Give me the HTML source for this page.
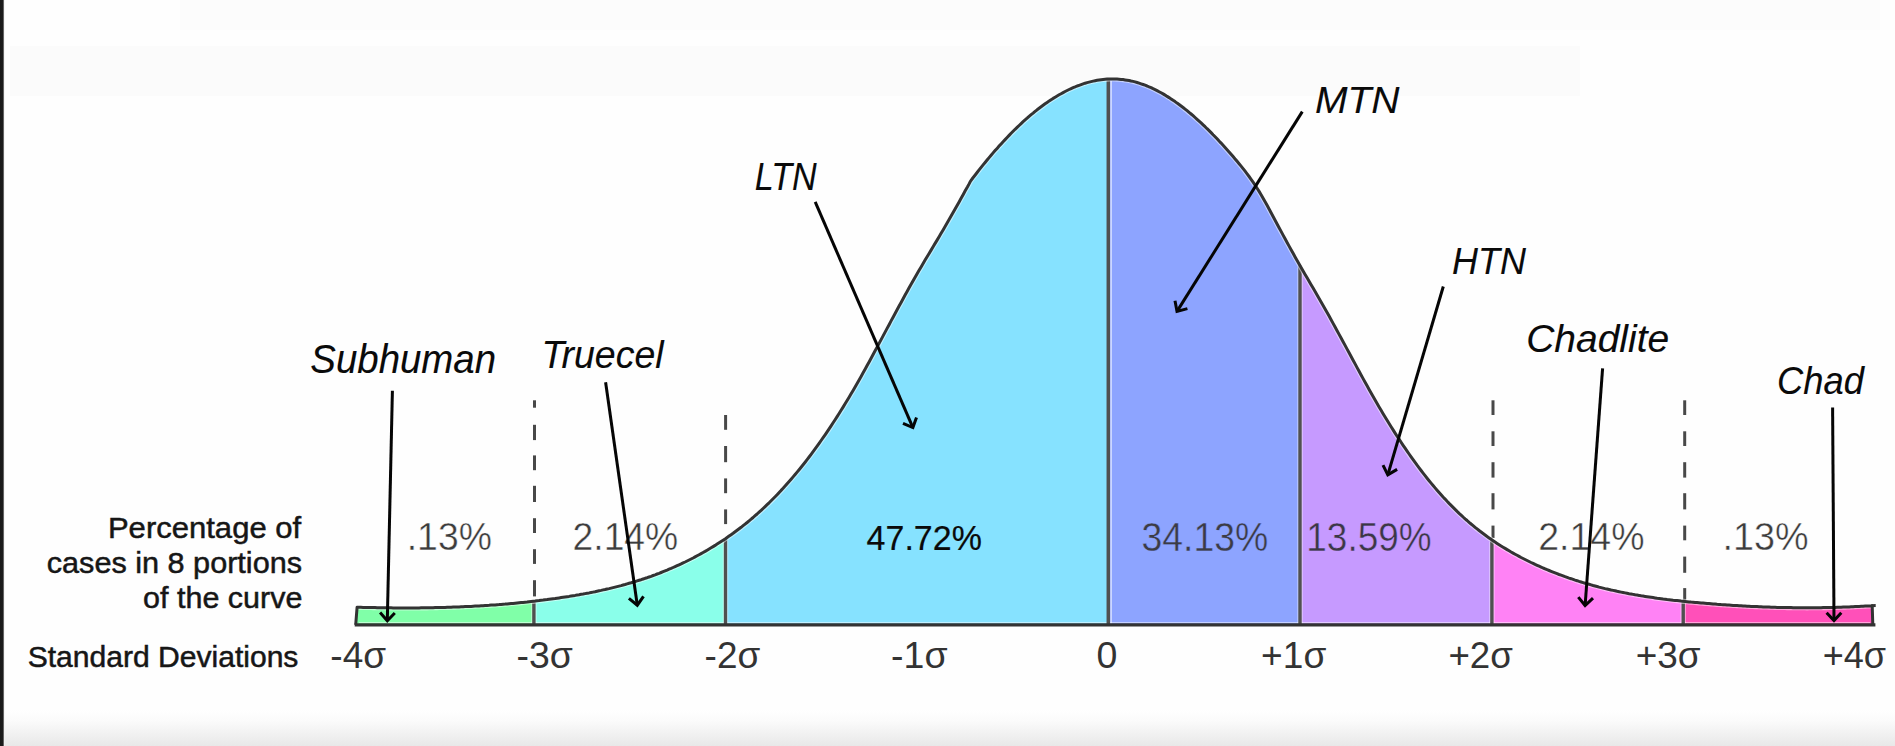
<!DOCTYPE html><html><head><meta charset="utf-8"><title>Bell curve</title><style>
html,body{margin:0;padding:0;background:#fff;}body{width:1895px;height:746px;overflow:hidden;position:relative;font-family:"Liberation Sans",sans-serif;}
svg{position:absolute;left:0;top:0;display:block}text{font-family:"Liberation Sans",sans-serif;}
</style></head><body>
<svg width="1895" height="746" viewBox="0 0 1895 746">
<defs><linearGradient id="bg" x1="0" y1="0" x2="0" y2="1"><stop offset="0" stop-color="#ffffff"/><stop offset="0.3" stop-color="#fbfbfb"/><stop offset="1" stop-color="#e8e8e8"/></linearGradient>
<linearGradient id="lb" x1="0" y1="0" x2="1" y2="0"><stop offset="0" stop-color="#191919"/><stop offset="0.62" stop-color="#1c1c1c"/><stop offset="0.8" stop-color="#777"/><stop offset="1" stop-color="#fff"/></linearGradient></defs>
<g>
<rect x="0" y="0" width="1895" height="746" fill="#fefefe"/>
<rect x="0" y="710" width="1895" height="36" fill="url(#bg)"/>
<rect x="10" y="46" width="1570" height="50" fill="#000" fill-opacity="0.013"/>
<rect x="180" y="0" width="1700" height="30" fill="#000" fill-opacity="0.008"/>
<rect x="0" y="0" width="4.6" height="746" fill="url(#lb)"/>
<polygon points="357.0,624.8 357.0,607.2 357.1,607.2 358.7,607.2 360.9,607.3 363.1,607.4 365.1,607.4 367.1,607.5 369.1,607.5 371.1,607.5 373.1,607.6 375.1,607.6 377.1,607.7 379.1,607.7 381.1,607.7 383.1,607.7 385.1,607.8 387.1,607.8 389.1,607.8 391.1,607.8 393.1,607.9 395.1,607.9 397.1,607.9 399.1,607.9 401.1,607.9 403.1,607.9 405.1,607.9 407.1,607.9 409.1,607.9 411.1,607.9 413.1,607.9 415.1,607.9 417.1,607.9 419.1,607.9 421.1,607.8 423.1,607.8 425.1,607.8 427.1,607.8 429.1,607.7 431.1,607.7 433.1,607.7 435.1,607.6 437.1,607.6 439.1,607.5 441.1,607.5 443.1,607.4 445.1,607.4 447.1,607.3 449.1,607.3 451.1,607.2 453.1,607.1 455.1,607.1 457.1,607.0 459.1,606.9 461.1,606.8 463.1,606.7 465.1,606.6 467.1,606.5 469.1,606.5 471.1,606.4 473.1,606.2 475.1,606.1 477.1,606.0 479.1,605.9 481.1,605.8 483.1,605.7 485.1,605.5 487.1,605.4 489.1,605.3 491.1,605.1 493.1,605.0 495.1,604.9 497.1,604.7 499.1,604.6 501.1,604.4 503.1,604.2 505.1,604.1 507.1,603.9 509.1,603.7 511.1,603.5 513.1,603.4 515.1,603.2 517.1,603.0 519.1,602.8 521.1,602.6 523.1,602.4 525.1,602.2 527.1,602.0 529.1,601.7 531.1,601.5 533.1,601.3 533.9,601.2 533.9,624.8" fill="#80ffa8"/>
<polygon points="533.9,624.8 533.9,601.2 535.1,601.1 537.1,600.8 539.1,600.6 541.1,600.3 543.1,600.1 545.1,599.8 547.1,599.6 549.1,599.3 551.1,599.0 553.1,598.7 555.1,598.5 557.1,598.2 559.1,597.9 561.1,597.6 563.1,597.3 565.1,597.0 567.1,596.7 569.1,596.4 571.1,596.0 573.1,595.7 575.1,595.4 577.1,595.0 579.1,594.7 581.1,594.3 583.1,594.0 585.1,593.6 587.1,593.2 589.1,592.9 591.1,592.5 593.1,592.1 595.1,591.7 597.1,591.2 599.1,590.8 601.1,590.4 603.1,589.9 605.1,589.5 607.1,589.0 609.1,588.6 611.1,588.1 613.1,587.6 615.1,587.1 617.1,586.6 619.1,586.1 621.1,585.6 623.1,585.0 625.1,584.5 627.1,583.9 629.1,583.3 631.1,582.8 633.1,582.2 635.1,581.6 637.1,580.9 639.1,580.3 641.1,579.7 643.1,579.0 645.1,578.3 647.1,577.7 649.1,577.0 651.1,576.3 653.1,575.5 655.1,574.8 657.1,574.0 659.1,573.3 661.1,572.5 663.1,571.7 665.1,570.9 667.1,570.1 669.1,569.2 671.1,568.4 673.1,567.5 675.1,566.6 677.1,565.7 679.1,564.8 681.1,563.9 683.1,562.9 685.1,562.0 687.1,561.0 689.1,560.0 691.1,559.0 693.1,558.0 695.1,556.9 697.1,555.8 699.1,554.7 701.1,553.6 703.1,552.5 705.1,551.4 707.1,550.2 709.1,549.0 711.1,547.8 713.1,546.6 715.1,545.4 717.1,544.1 719.1,542.8 721.1,541.5 723.1,540.2 725.1,538.9 725.5,538.6 725.5,624.8" fill="#8affea"/>
<polygon points="725.5,624.8 725.5,538.6 727.1,537.5 729.1,536.1 731.1,534.7 733.1,533.3 735.1,531.8 737.1,530.3 739.1,528.8 741.1,527.3 743.1,525.7 745.1,524.1 747.1,522.5 749.1,520.8 751.1,519.2 753.1,517.5 755.1,515.7 757.1,514.0 759.1,512.2 761.1,510.4 763.1,508.5 765.1,506.6 767.1,504.7 769.1,502.8 771.1,500.8 773.1,498.8 775.1,496.8 777.1,494.7 779.1,492.6 781.1,490.4 783.1,488.3 785.1,486.1 787.1,483.8 789.1,481.6 791.1,479.3 793.1,476.9 795.1,474.5 797.1,472.1 799.1,469.7 801.1,467.2 803.1,464.7 805.1,462.2 807.1,459.6 809.1,457.0 811.1,454.3 813.1,451.6 815.1,448.9 817.1,446.2 819.1,443.4 821.1,440.5 823.1,437.7 825.1,434.8 827.1,431.8 829.1,428.9 831.1,425.9 833.1,422.8 835.1,419.7 837.1,416.6 839.1,413.5 841.1,410.3 843.1,407.1 845.1,403.8 847.1,400.5 849.1,397.2 851.1,393.8 853.1,390.4 855.1,386.9 857.1,383.4 859.1,379.9 861.1,376.4 863.1,372.8 865.1,369.2 867.1,365.5 869.1,361.9 871.1,358.2 873.1,354.5 875.1,350.8 877.1,347.1 879.1,343.4 881.1,339.6 883.1,335.9 885.1,332.1 887.1,328.4 889.1,324.7 891.1,320.9 893.1,317.2 895.1,313.5 897.1,309.7 899.1,306.0 901.1,302.4 903.1,298.7 905.1,295.0 907.1,291.4 909.1,287.8 911.1,284.3 913.1,280.7 915.1,277.2 917.1,273.7 919.1,270.3 921.1,266.9 923.1,263.5 925.1,260.1 927.1,256.8 929.1,253.4 931.1,250.1 933.1,246.7 935.1,243.4 937.1,240.1 939.1,236.7 941.1,233.3 943.1,229.9 945.1,226.5 947.1,223.0 949.1,219.6 951.1,216.1 953.1,212.5 955.1,209.0 957.1,205.4 959.1,201.9 961.1,198.3 963.1,194.7 965.2,190.8 967.4,187.0 969.1,183.9 969.9,182.3 970.3,181.5 971.1,180.3 972.8,178.0 975.0,175.2 977.1,172.5 979.1,169.9 981.1,167.4 983.1,164.9 985.1,162.5 987.1,160.0 989.1,157.6 991.1,155.3 993.1,152.9 995.1,150.6 997.1,148.4 999.1,146.1 1001.1,143.9 1003.1,141.7 1005.1,139.6 1007.1,137.5 1009.1,135.4 1011.1,133.3 1013.1,131.3 1015.1,129.3 1017.1,127.4 1019.1,125.5 1021.1,123.6 1023.1,121.7 1025.1,119.9 1027.1,118.2 1029.1,116.4 1031.1,114.7 1033.1,113.1 1035.1,111.4 1037.1,109.8 1039.1,108.3 1041.1,106.8 1043.1,105.3 1045.1,103.8 1047.1,102.4 1049.1,101.1 1051.1,99.7 1053.1,98.4 1055.1,97.2 1057.1,96.0 1059.1,94.8 1061.1,93.7 1063.1,92.6 1065.1,91.5 1067.1,90.5 1069.1,89.5 1071.1,88.6 1073.1,87.7 1075.1,86.9 1077.1,86.0 1079.1,85.3 1081.1,84.6 1083.1,83.9 1085.1,83.2 1087.1,82.6 1089.1,82.1 1091.1,81.6 1093.1,81.1 1095.1,80.7 1097.1,80.3 1099.1,80.0 1101.1,79.7 1103.1,79.5 1105.1,79.3 1107.1,79.1 1108.6,79.0 1108.6,624.8" fill="#86e2ff"/>
<polygon points="1108.6,624.8 1108.6,79.0 1109.1,79.0 1111.1,78.9 1113.1,78.9 1115.1,79.0 1117.1,79.1 1119.1,79.2 1121.1,79.4 1123.1,79.6 1125.1,79.9 1127.1,80.2 1129.1,80.5 1131.1,81.0 1133.1,81.4 1135.1,81.9 1137.1,82.5 1139.1,83.1 1141.1,83.8 1143.1,84.5 1145.1,85.2 1147.1,86.0 1149.1,86.9 1151.1,87.7 1153.1,88.7 1155.1,89.6 1157.1,90.6 1159.1,91.7 1161.1,92.8 1163.1,93.9 1165.1,95.1 1167.1,96.4 1169.1,97.6 1171.1,98.9 1173.1,100.3 1175.1,101.6 1177.1,103.1 1179.1,104.5 1181.1,106.0 1183.1,107.5 1185.1,109.1 1187.1,110.7 1189.1,112.4 1191.1,114.0 1193.1,115.7 1195.1,117.5 1197.1,119.3 1199.1,121.1 1201.1,122.9 1203.1,124.8 1205.1,126.7 1207.1,128.7 1209.1,130.6 1211.1,132.6 1213.1,134.7 1215.1,136.7 1217.1,138.8 1219.1,141.0 1221.1,143.1 1223.1,145.3 1225.1,147.5 1227.1,149.7 1229.1,152.0 1231.1,154.3 1233.1,156.6 1235.1,158.9 1237.1,161.3 1239.1,163.7 1241.1,166.1 1243.1,168.6 1245.1,171.2 1247.1,173.8 1249.1,176.5 1251.1,179.3 1253.1,182.2 1255.1,185.1 1257.1,188.2 1259.1,191.4 1261.1,194.7 1263.1,198.2 1265.1,201.7 1267.1,205.3 1269.1,209.0 1271.1,212.8 1273.1,216.5 1275.1,220.2 1277.1,224.0 1279.1,227.7 1281.1,231.4 1283.1,235.1 1285.1,238.8 1287.1,242.4 1289.1,246.1 1291.1,249.7 1293.1,253.3 1295.1,256.9 1297.1,260.4 1299.1,264.0 1300.0,265.5 1300.0,624.8" fill="#8da4ff"/>
<polygon points="1300.0,624.8 1300.0,265.5 1301.1,267.5 1303.1,271.0 1305.1,274.4 1307.1,277.8 1309.1,281.3 1311.1,284.7 1313.1,288.1 1315.1,291.5 1317.1,295.0 1319.1,298.4 1321.1,301.9 1323.1,305.4 1325.1,309.0 1327.1,312.5 1329.1,316.1 1331.1,319.7 1333.1,323.4 1335.1,327.0 1337.1,330.7 1339.1,334.4 1341.1,338.0 1343.1,341.7 1345.1,345.4 1347.1,349.1 1349.1,352.8 1351.1,356.5 1353.1,360.2 1355.1,363.9 1357.1,367.6 1359.1,371.3 1361.1,374.9 1363.1,378.6 1365.1,382.2 1367.1,385.8 1369.1,389.4 1371.1,393.0 1373.1,396.5 1375.1,400.0 1377.1,403.5 1379.1,406.9 1381.1,410.3 1383.1,413.7 1385.1,417.0 1387.1,420.3 1389.1,423.5 1391.1,426.7 1393.1,429.9 1395.1,433.1 1397.1,436.2 1399.1,439.2 1401.1,442.3 1403.1,445.3 1405.1,448.2 1407.1,451.1 1409.1,454.0 1411.1,456.9 1413.1,459.7 1415.1,462.4 1417.1,465.2 1419.1,467.8 1421.1,470.5 1423.1,473.1 1425.1,475.7 1427.1,478.2 1429.1,480.7 1431.1,483.1 1433.1,485.5 1435.1,487.9 1437.1,490.2 1439.1,492.5 1441.1,494.8 1443.1,497.0 1445.1,499.1 1447.1,501.3 1449.1,503.4 1451.1,505.4 1453.1,507.4 1455.1,509.4 1457.1,511.4 1459.1,513.3 1461.1,515.1 1463.1,517.0 1465.1,518.8 1467.1,520.5 1469.1,522.3 1471.1,524.0 1473.1,525.6 1475.1,527.3 1477.1,528.9 1479.1,530.5 1481.1,532.0 1483.1,533.5 1485.1,535.0 1487.1,536.5 1489.1,537.9 1491.1,539.3 1491.9,539.9 1491.9,624.8" fill="#c69aff"/>
<polygon points="1491.9,624.8 1491.9,539.9 1493.1,540.7 1495.1,542.1 1497.1,543.4 1499.1,544.7 1501.1,546.0 1503.1,547.2 1505.1,548.4 1507.1,549.6 1509.1,550.8 1511.1,552.0 1513.1,553.1 1515.1,554.2 1517.1,555.3 1519.1,556.4 1521.1,557.5 1523.1,558.5 1525.1,559.5 1527.1,560.5 1529.1,561.5 1531.1,562.5 1533.1,563.4 1535.1,564.4 1537.1,565.3 1539.1,566.2 1541.1,567.1 1543.1,568.0 1545.1,568.8 1547.1,569.7 1549.1,570.5 1551.1,571.3 1553.1,572.1 1555.1,572.9 1557.1,573.7 1559.1,574.5 1561.1,575.2 1563.1,575.9 1565.1,576.7 1567.1,577.4 1569.1,578.1 1571.1,578.7 1573.1,579.4 1575.1,580.1 1577.1,580.7 1579.1,581.4 1581.1,582.0 1583.1,582.6 1585.1,583.2 1587.1,583.8 1589.1,584.3 1591.1,584.9 1593.1,585.5 1595.1,586.0 1597.1,586.5 1599.1,587.1 1601.1,587.6 1603.1,588.1 1605.1,588.6 1607.1,589.0 1609.1,589.5 1611.1,590.0 1613.1,590.4 1615.1,590.8 1617.1,591.3 1619.1,591.7 1621.1,592.1 1623.1,592.5 1625.1,592.9 1627.1,593.3 1629.1,593.7 1631.1,594.0 1633.1,594.4 1635.1,594.8 1637.1,595.1 1639.1,595.4 1641.1,595.8 1643.1,596.1 1645.1,596.4 1647.1,596.7 1649.1,597.0 1651.1,597.3 1653.1,597.6 1655.1,597.9 1657.1,598.2 1659.1,598.4 1661.1,598.7 1663.1,599.0 1665.1,599.2 1667.1,599.5 1669.1,599.7 1671.1,599.9 1673.1,600.2 1675.1,600.4 1677.1,600.6 1679.1,600.8 1681.1,601.1 1683.1,601.3 1683.2,601.3 1683.2,624.8" fill="#ff82f5"/>
<polygon points="1683.2,624.8 1683.2,601.3 1685.1,601.5 1687.1,601.7 1689.1,601.9 1691.1,602.1 1693.1,602.2 1695.1,602.4 1697.1,602.6 1699.1,602.8 1701.1,603.0 1703.1,603.1 1705.1,603.3 1707.1,603.5 1709.1,603.6 1711.1,603.8 1713.1,604.0 1715.1,604.1 1717.1,604.3 1719.1,604.4 1721.1,604.6 1723.1,604.7 1725.1,604.8 1727.1,605.0 1729.1,605.1 1731.1,605.2 1733.1,605.4 1735.1,605.5 1737.1,605.6 1739.1,605.7 1741.1,605.8 1743.1,606.0 1745.1,606.1 1747.1,606.2 1749.1,606.3 1751.1,606.4 1753.1,606.5 1755.1,606.6 1757.1,606.6 1759.1,606.7 1761.1,606.8 1763.1,606.9 1765.1,607.0 1767.1,607.0 1769.1,607.1 1771.1,607.2 1773.1,607.2 1775.1,607.3 1777.1,607.4 1779.1,607.4 1781.1,607.5 1783.1,607.5 1785.1,607.5 1787.1,607.6 1789.1,607.6 1791.1,607.6 1793.1,607.7 1795.1,607.7 1797.1,607.7 1799.1,607.7 1801.1,607.7 1803.1,607.7 1805.1,607.7 1807.1,607.8 1809.1,607.7 1811.1,607.7 1813.1,607.7 1815.1,607.7 1817.1,607.7 1819.1,607.7 1821.1,607.7 1823.1,607.6 1825.1,607.6 1827.1,607.6 1829.1,607.5 1831.1,607.5 1833.1,607.4 1835.1,607.4 1837.1,607.3 1839.1,607.3 1841.1,607.2 1843.1,607.1 1845.1,607.1 1847.1,607.0 1849.1,606.9 1851.1,606.8 1853.1,606.7 1855.1,606.6 1857.1,606.5 1859.1,606.4 1861.1,606.3 1863.1,606.2 1865.1,606.1 1867.3,606.0 1869.5,605.9 1871.1,605.8 1871.9,605.7 1872.1,605.7 1872.2,605.7 1872.2,624.8" fill="#ff50b9"/>
<line x1="359.0" y1="622.5999999999999" x2="1870.2" y2="622.5999999999999" stroke="#fff" stroke-opacity="0.55" stroke-width="1"/>
<line x1="533.9" y1="603.2" x2="533.9" y2="623.8" stroke="#fff" stroke-opacity="0.45" stroke-width="5.4"/>
<line x1="533.9" y1="601.2" x2="533.9" y2="624.8" stroke="#505050" stroke-width="3.4"/>
<line x1="725.5" y1="540.6" x2="725.5" y2="623.8" stroke="#fff" stroke-opacity="0.45" stroke-width="5.4"/>
<line x1="725.5" y1="538.6" x2="725.5" y2="624.8" stroke="#505050" stroke-width="3.4"/>
<line x1="1111.1" y1="81.0" x2="1111.1" y2="623.8" stroke="#fff" stroke-opacity="0.7" stroke-width="1.4"/>
<line x1="1108.3" y1="79.0" x2="1108.3" y2="624.8" stroke="#505050" stroke-width="3.5"/>
<line x1="1300.0" y1="267.5" x2="1300.0" y2="623.8" stroke="#fff" stroke-opacity="0.45" stroke-width="5.4"/>
<line x1="1300.0" y1="265.5" x2="1300.0" y2="624.8" stroke="#505050" stroke-width="3.4"/>
<line x1="1491.9" y1="541.9" x2="1491.9" y2="623.8" stroke="#fff" stroke-opacity="0.45" stroke-width="5.4"/>
<line x1="1491.9" y1="539.9" x2="1491.9" y2="624.8" stroke="#505050" stroke-width="3.4"/>
<line x1="1683.2" y1="603.3" x2="1683.2" y2="623.8" stroke="#fff" stroke-opacity="0.45" stroke-width="5.4"/>
<line x1="1683.2" y1="601.3" x2="1683.2" y2="624.8" stroke="#505050" stroke-width="3.4"/>
<line x1="534.5" y1="400.3" x2="534.5" y2="407.7" stroke="#484848" stroke-width="3"/>
<line x1="534.5" y1="424.8" x2="534.5" y2="440.1" stroke="#484848" stroke-width="3"/>
<line x1="534.5" y1="455.4" x2="534.5" y2="470.2" stroke="#484848" stroke-width="3"/>
<line x1="534.5" y1="485.8" x2="534.5" y2="502" stroke="#484848" stroke-width="3"/>
<line x1="534.5" y1="518.2" x2="534.5" y2="533" stroke="#484848" stroke-width="3"/>
<line x1="534.5" y1="549.2" x2="534.5" y2="563.9" stroke="#484848" stroke-width="3"/>
<line x1="534.5" y1="580.2" x2="534.5" y2="596.4" stroke="#484848" stroke-width="3"/>
<line x1="725.6" y1="415" x2="725.6" y2="429.8" stroke="#484848" stroke-width="3"/>
<line x1="725.6" y1="446" x2="725.6" y2="462.2" stroke="#484848" stroke-width="3"/>
<line x1="725.6" y1="478.4" x2="725.6" y2="493.2" stroke="#484848" stroke-width="3"/>
<line x1="725.6" y1="509.4" x2="725.6" y2="524.1" stroke="#484848" stroke-width="3"/>
<line x1="1493" y1="400.3" x2="1493" y2="415" stroke="#484848" stroke-width="3"/>
<line x1="1493" y1="431.3" x2="1493" y2="446" stroke="#484848" stroke-width="3"/>
<line x1="1493" y1="462.2" x2="1493" y2="477.6" stroke="#484848" stroke-width="3"/>
<line x1="1493" y1="493.2" x2="1493" y2="509.4" stroke="#484848" stroke-width="3"/>
<line x1="1493" y1="525.6" x2="1493" y2="538" stroke="#484848" stroke-width="3"/>
<line x1="1684.7" y1="400.3" x2="1684.7" y2="415" stroke="#484848" stroke-width="3"/>
<line x1="1684.7" y1="431.3" x2="1684.7" y2="446" stroke="#484848" stroke-width="3"/>
<line x1="1684.7" y1="462.2" x2="1684.7" y2="477.6" stroke="#484848" stroke-width="3"/>
<line x1="1684.7" y1="493.2" x2="1684.7" y2="509.4" stroke="#484848" stroke-width="3"/>
<line x1="1684.7" y1="525.6" x2="1684.7" y2="540.3" stroke="#484848" stroke-width="3"/>
<line x1="1684.7" y1="556.6" x2="1684.7" y2="572.8" stroke="#484848" stroke-width="3"/>
<line x1="1684.7" y1="588.1" x2="1684.7" y2="600" stroke="#484848" stroke-width="3"/>
<polyline points="357.1,607.2 358.7,607.2 360.9,607.3 363.1,607.4 365.1,607.4 367.1,607.5 369.1,607.5 371.1,607.5 373.1,607.6 375.1,607.6 377.1,607.7 379.1,607.7 381.1,607.7 383.1,607.7 385.1,607.8 387.1,607.8 389.1,607.8 391.1,607.8 393.1,607.9 395.1,607.9 397.1,607.9 399.1,607.9 401.1,607.9 403.1,607.9 405.1,607.9 407.1,607.9 409.1,607.9 411.1,607.9 413.1,607.9 415.1,607.9 417.1,607.9 419.1,607.9 421.1,607.8 423.1,607.8 425.1,607.8 427.1,607.8 429.1,607.7 431.1,607.7 433.1,607.7 435.1,607.6 437.1,607.6 439.1,607.5 441.1,607.5 443.1,607.4 445.1,607.4 447.1,607.3 449.1,607.3 451.1,607.2 453.1,607.1 455.1,607.1 457.1,607.0 459.1,606.9 461.1,606.8 463.1,606.7 465.1,606.6 467.1,606.5 469.1,606.5 471.1,606.4 473.1,606.2 475.1,606.1 477.1,606.0 479.1,605.9 481.1,605.8 483.1,605.7 485.1,605.5 487.1,605.4 489.1,605.3 491.1,605.1 493.1,605.0 495.1,604.9 497.1,604.7 499.1,604.6 501.1,604.4 503.1,604.2 505.1,604.1 507.1,603.9 509.1,603.7 511.1,603.5 513.1,603.4 515.1,603.2 517.1,603.0 519.1,602.8 521.1,602.6 523.1,602.4 525.1,602.2 527.1,602.0 529.1,601.7 531.1,601.5 533.1,601.3 535.1,601.1 537.1,600.8 539.1,600.6 541.1,600.3 543.1,600.1 545.1,599.8 547.1,599.6 549.1,599.3 551.1,599.0 553.1,598.7 555.1,598.5 557.1,598.2 559.1,597.9 561.1,597.6 563.1,597.3 565.1,597.0 567.1,596.7 569.1,596.4 571.1,596.0 573.1,595.7 575.1,595.4 577.1,595.0 579.1,594.7 581.1,594.3 583.1,594.0 585.1,593.6 587.1,593.2 589.1,592.9 591.1,592.5 593.1,592.1 595.1,591.7 597.1,591.2 599.1,590.8 601.1,590.4 603.1,589.9 605.1,589.5 607.1,589.0 609.1,588.6 611.1,588.1 613.1,587.6 615.1,587.1 617.1,586.6 619.1,586.1 621.1,585.6 623.1,585.0 625.1,584.5 627.1,583.9 629.1,583.3 631.1,582.8 633.1,582.2 635.1,581.6 637.1,580.9 639.1,580.3 641.1,579.7 643.1,579.0 645.1,578.3 647.1,577.7 649.1,577.0 651.1,576.3 653.1,575.5 655.1,574.8 657.1,574.0 659.1,573.3 661.1,572.5 663.1,571.7 665.1,570.9 667.1,570.1 669.1,569.2 671.1,568.4 673.1,567.5 675.1,566.6 677.1,565.7 679.1,564.8 681.1,563.9 683.1,562.9 685.1,562.0 687.1,561.0 689.1,560.0 691.1,559.0 693.1,558.0 695.1,556.9 697.1,555.8 699.1,554.7 701.1,553.6 703.1,552.5 705.1,551.4 707.1,550.2 709.1,549.0 711.1,547.8 713.1,546.6 715.1,545.4 717.1,544.1 719.1,542.8 721.1,541.5 723.1,540.2 725.1,538.9 727.1,537.5 729.1,536.1 731.1,534.7 733.1,533.3 735.1,531.8 737.1,530.3 739.1,528.8 741.1,527.3 743.1,525.7 745.1,524.1 747.1,522.5 749.1,520.8 751.1,519.2 753.1,517.5 755.1,515.7 757.1,514.0 759.1,512.2 761.1,510.4 763.1,508.5 765.1,506.6 767.1,504.7 769.1,502.8 771.1,500.8 773.1,498.8 775.1,496.8 777.1,494.7 779.1,492.6 781.1,490.4 783.1,488.3 785.1,486.1 787.1,483.8 789.1,481.6 791.1,479.3 793.1,476.9 795.1,474.5 797.1,472.1 799.1,469.7 801.1,467.2 803.1,464.7 805.1,462.2 807.1,459.6 809.1,457.0 811.1,454.3 813.1,451.6 815.1,448.9 817.1,446.2 819.1,443.4 821.1,440.5 823.1,437.7 825.1,434.8 827.1,431.8 829.1,428.9 831.1,425.9 833.1,422.8 835.1,419.7 837.1,416.6 839.1,413.5 841.1,410.3 843.1,407.1 845.1,403.8 847.1,400.5 849.1,397.2 851.1,393.8 853.1,390.4 855.1,386.9 857.1,383.4 859.1,379.9 861.1,376.4 863.1,372.8 865.1,369.2 867.1,365.5 869.1,361.9 871.1,358.2 873.1,354.5 875.1,350.8 877.1,347.1 879.1,343.4 881.1,339.6 883.1,335.9 885.1,332.1 887.1,328.4 889.1,324.7 891.1,320.9 893.1,317.2 895.1,313.5 897.1,309.7 899.1,306.0 901.1,302.4 903.1,298.7 905.1,295.0 907.1,291.4 909.1,287.8 911.1,284.3 913.1,280.7 915.1,277.2 917.1,273.7 919.1,270.3 921.1,266.9 923.1,263.5 925.1,260.1 927.1,256.8 929.1,253.4 931.1,250.1 933.1,246.7 935.1,243.4 937.1,240.1 939.1,236.7 941.1,233.3 943.1,229.9 945.1,226.5 947.1,223.0 949.1,219.6 951.1,216.1 953.1,212.5 955.1,209.0 957.1,205.4 959.1,201.9 961.1,198.3 963.1,194.7 965.2,190.8 967.4,187.0 969.1,183.9 969.9,182.3 970.3,181.5 971.1,180.3 972.8,178.0 975.0,175.2 977.1,172.5 979.1,169.9 981.1,167.4 983.1,164.9 985.1,162.5 987.1,160.0 989.1,157.6 991.1,155.3 993.1,152.9 995.1,150.6 997.1,148.4 999.1,146.1 1001.1,143.9 1003.1,141.7 1005.1,139.6 1007.1,137.5 1009.1,135.4 1011.1,133.3 1013.1,131.3 1015.1,129.3 1017.1,127.4 1019.1,125.5 1021.1,123.6 1023.1,121.7 1025.1,119.9 1027.1,118.2 1029.1,116.4 1031.1,114.7 1033.1,113.1 1035.1,111.4 1037.1,109.8 1039.1,108.3 1041.1,106.8 1043.1,105.3 1045.1,103.8 1047.1,102.4 1049.1,101.1 1051.1,99.7 1053.1,98.4 1055.1,97.2 1057.1,96.0 1059.1,94.8 1061.1,93.7 1063.1,92.6 1065.1,91.5 1067.1,90.5 1069.1,89.5 1071.1,88.6 1073.1,87.7 1075.1,86.9 1077.1,86.0 1079.1,85.3 1081.1,84.6 1083.1,83.9 1085.1,83.2 1087.1,82.6 1089.1,82.1 1091.1,81.6 1093.1,81.1 1095.1,80.7 1097.1,80.3 1099.1,80.0 1101.1,79.7 1103.1,79.5 1105.1,79.3 1107.1,79.1 1109.1,79.0 1111.1,78.9 1113.1,78.9 1115.1,79.0 1117.1,79.1 1119.1,79.2 1121.1,79.4 1123.1,79.6 1125.1,79.9 1127.1,80.2 1129.1,80.5 1131.1,81.0 1133.1,81.4 1135.1,81.9 1137.1,82.5 1139.1,83.1 1141.1,83.8 1143.1,84.5 1145.1,85.2 1147.1,86.0 1149.1,86.9 1151.1,87.7 1153.1,88.7 1155.1,89.6 1157.1,90.6 1159.1,91.7 1161.1,92.8 1163.1,93.9 1165.1,95.1 1167.1,96.4 1169.1,97.6 1171.1,98.9 1173.1,100.3 1175.1,101.6 1177.1,103.1 1179.1,104.5 1181.1,106.0 1183.1,107.5 1185.1,109.1 1187.1,110.7 1189.1,112.4 1191.1,114.0 1193.1,115.7 1195.1,117.5 1197.1,119.3 1199.1,121.1 1201.1,122.9 1203.1,124.8 1205.1,126.7 1207.1,128.7 1209.1,130.6 1211.1,132.6 1213.1,134.7 1215.1,136.7 1217.1,138.8 1219.1,141.0 1221.1,143.1 1223.1,145.3 1225.1,147.5 1227.1,149.7 1229.1,152.0 1231.1,154.3 1233.1,156.6 1235.1,158.9 1237.1,161.3 1239.1,163.7 1241.1,166.1 1243.1,168.6 1245.1,171.2 1247.1,173.8 1249.1,176.5 1251.1,179.3 1253.1,182.2 1255.1,185.1 1257.1,188.2 1259.1,191.4 1261.1,194.7 1263.1,198.2 1265.1,201.7 1267.1,205.3 1269.1,209.0 1271.1,212.8 1273.1,216.5 1275.1,220.2 1277.1,224.0 1279.1,227.7 1281.1,231.4 1283.1,235.1 1285.1,238.8 1287.1,242.4 1289.1,246.1 1291.1,249.7 1293.1,253.3 1295.1,256.9 1297.1,260.4 1299.1,264.0 1301.1,267.5 1303.1,271.0 1305.1,274.4 1307.1,277.8 1309.1,281.3 1311.1,284.7 1313.1,288.1 1315.1,291.5 1317.1,295.0 1319.1,298.4 1321.1,301.9 1323.1,305.4 1325.1,309.0 1327.1,312.5 1329.1,316.1 1331.1,319.7 1333.1,323.4 1335.1,327.0 1337.1,330.7 1339.1,334.4 1341.1,338.0 1343.1,341.7 1345.1,345.4 1347.1,349.1 1349.1,352.8 1351.1,356.5 1353.1,360.2 1355.1,363.9 1357.1,367.6 1359.1,371.3 1361.1,374.9 1363.1,378.6 1365.1,382.2 1367.1,385.8 1369.1,389.4 1371.1,393.0 1373.1,396.5 1375.1,400.0 1377.1,403.5 1379.1,406.9 1381.1,410.3 1383.1,413.7 1385.1,417.0 1387.1,420.3 1389.1,423.5 1391.1,426.7 1393.1,429.9 1395.1,433.1 1397.1,436.2 1399.1,439.2 1401.1,442.3 1403.1,445.3 1405.1,448.2 1407.1,451.1 1409.1,454.0 1411.1,456.9 1413.1,459.7 1415.1,462.4 1417.1,465.2 1419.1,467.8 1421.1,470.5 1423.1,473.1 1425.1,475.7 1427.1,478.2 1429.1,480.7 1431.1,483.1 1433.1,485.5 1435.1,487.9 1437.1,490.2 1439.1,492.5 1441.1,494.8 1443.1,497.0 1445.1,499.1 1447.1,501.3 1449.1,503.4 1451.1,505.4 1453.1,507.4 1455.1,509.4 1457.1,511.4 1459.1,513.3 1461.1,515.1 1463.1,517.0 1465.1,518.8 1467.1,520.5 1469.1,522.3 1471.1,524.0 1473.1,525.6 1475.1,527.3 1477.1,528.9 1479.1,530.5 1481.1,532.0 1483.1,533.5 1485.1,535.0 1487.1,536.5 1489.1,537.9 1491.1,539.3 1493.1,540.7 1495.1,542.1 1497.1,543.4 1499.1,544.7 1501.1,546.0 1503.1,547.2 1505.1,548.4 1507.1,549.6 1509.1,550.8 1511.1,552.0 1513.1,553.1 1515.1,554.2 1517.1,555.3 1519.1,556.4 1521.1,557.5 1523.1,558.5 1525.1,559.5 1527.1,560.5 1529.1,561.5 1531.1,562.5 1533.1,563.4 1535.1,564.4 1537.1,565.3 1539.1,566.2 1541.1,567.1 1543.1,568.0 1545.1,568.8 1547.1,569.7 1549.1,570.5 1551.1,571.3 1553.1,572.1 1555.1,572.9 1557.1,573.7 1559.1,574.5 1561.1,575.2 1563.1,575.9 1565.1,576.7 1567.1,577.4 1569.1,578.1 1571.1,578.7 1573.1,579.4 1575.1,580.1 1577.1,580.7 1579.1,581.4 1581.1,582.0 1583.1,582.6 1585.1,583.2 1587.1,583.8 1589.1,584.3 1591.1,584.9 1593.1,585.5 1595.1,586.0 1597.1,586.5 1599.1,587.1 1601.1,587.6 1603.1,588.1 1605.1,588.6 1607.1,589.0 1609.1,589.5 1611.1,590.0 1613.1,590.4 1615.1,590.8 1617.1,591.3 1619.1,591.7 1621.1,592.1 1623.1,592.5 1625.1,592.9 1627.1,593.3 1629.1,593.7 1631.1,594.0 1633.1,594.4 1635.1,594.8 1637.1,595.1 1639.1,595.4 1641.1,595.8 1643.1,596.1 1645.1,596.4 1647.1,596.7 1649.1,597.0 1651.1,597.3 1653.1,597.6 1655.1,597.9 1657.1,598.2 1659.1,598.4 1661.1,598.7 1663.1,599.0 1665.1,599.2 1667.1,599.5 1669.1,599.7 1671.1,599.9 1673.1,600.2 1675.1,600.4 1677.1,600.6 1679.1,600.8 1681.1,601.1 1683.1,601.3 1685.1,601.5 1687.1,601.7 1689.1,601.9 1691.1,602.1 1693.1,602.2 1695.1,602.4 1697.1,602.6 1699.1,602.8 1701.1,603.0 1703.1,603.1 1705.1,603.3 1707.1,603.5 1709.1,603.6 1711.1,603.8 1713.1,604.0 1715.1,604.1 1717.1,604.3 1719.1,604.4 1721.1,604.6 1723.1,604.7 1725.1,604.8 1727.1,605.0 1729.1,605.1 1731.1,605.2 1733.1,605.4 1735.1,605.5 1737.1,605.6 1739.1,605.7 1741.1,605.8 1743.1,606.0 1745.1,606.1 1747.1,606.2 1749.1,606.3 1751.1,606.4 1753.1,606.5 1755.1,606.6 1757.1,606.6 1759.1,606.7 1761.1,606.8 1763.1,606.9 1765.1,607.0 1767.1,607.0 1769.1,607.1 1771.1,607.2 1773.1,607.2 1775.1,607.3 1777.1,607.4 1779.1,607.4 1781.1,607.5 1783.1,607.5 1785.1,607.5 1787.1,607.6 1789.1,607.6 1791.1,607.6 1793.1,607.7 1795.1,607.7 1797.1,607.7 1799.1,607.7 1801.1,607.7 1803.1,607.7 1805.1,607.7 1807.1,607.8 1809.1,607.7 1811.1,607.7 1813.1,607.7 1815.1,607.7 1817.1,607.7 1819.1,607.7 1821.1,607.7 1823.1,607.6 1825.1,607.6 1827.1,607.6 1829.1,607.5 1831.1,607.5 1833.1,607.4 1835.1,607.4 1837.1,607.3 1839.1,607.3 1841.1,607.2 1843.1,607.1 1845.1,607.1 1847.1,607.0 1849.1,606.9 1851.1,606.8 1853.1,606.7 1855.1,606.6 1857.1,606.5 1859.1,606.4 1861.1,606.3 1863.1,606.2 1865.1,606.1 1867.3,606.0 1869.5,605.9 1871.1,605.8 1871.9,605.7 1872.1,605.7 1872.2,605.7" fill="none" stroke="#fff" stroke-opacity="0.5" stroke-width="5.2" stroke-linejoin="round"/>
<polyline points="355.7,624.8 357.1,607.2 358.7,607.2 360.9,607.3 363.1,607.4 365.1,607.4 367.1,607.5 369.1,607.5 371.1,607.5 373.1,607.6 375.1,607.6 377.1,607.7 379.1,607.7 381.1,607.7 383.1,607.7 385.1,607.8 387.1,607.8 389.1,607.8 391.1,607.8 393.1,607.9 395.1,607.9 397.1,607.9 399.1,607.9 401.1,607.9 403.1,607.9 405.1,607.9 407.1,607.9 409.1,607.9 411.1,607.9 413.1,607.9 415.1,607.9 417.1,607.9 419.1,607.9 421.1,607.8 423.1,607.8 425.1,607.8 427.1,607.8 429.1,607.7 431.1,607.7 433.1,607.7 435.1,607.6 437.1,607.6 439.1,607.5 441.1,607.5 443.1,607.4 445.1,607.4 447.1,607.3 449.1,607.3 451.1,607.2 453.1,607.1 455.1,607.1 457.1,607.0 459.1,606.9 461.1,606.8 463.1,606.7 465.1,606.6 467.1,606.5 469.1,606.5 471.1,606.4 473.1,606.2 475.1,606.1 477.1,606.0 479.1,605.9 481.1,605.8 483.1,605.7 485.1,605.5 487.1,605.4 489.1,605.3 491.1,605.1 493.1,605.0 495.1,604.9 497.1,604.7 499.1,604.6 501.1,604.4 503.1,604.2 505.1,604.1 507.1,603.9 509.1,603.7 511.1,603.5 513.1,603.4 515.1,603.2 517.1,603.0 519.1,602.8 521.1,602.6 523.1,602.4 525.1,602.2 527.1,602.0 529.1,601.7 531.1,601.5 533.1,601.3 535.1,601.1 537.1,600.8 539.1,600.6 541.1,600.3 543.1,600.1 545.1,599.8 547.1,599.6 549.1,599.3 551.1,599.0 553.1,598.7 555.1,598.5 557.1,598.2 559.1,597.9 561.1,597.6 563.1,597.3 565.1,597.0 567.1,596.7 569.1,596.4 571.1,596.0 573.1,595.7 575.1,595.4 577.1,595.0 579.1,594.7 581.1,594.3 583.1,594.0 585.1,593.6 587.1,593.2 589.1,592.9 591.1,592.5 593.1,592.1 595.1,591.7 597.1,591.2 599.1,590.8 601.1,590.4 603.1,589.9 605.1,589.5 607.1,589.0 609.1,588.6 611.1,588.1 613.1,587.6 615.1,587.1 617.1,586.6 619.1,586.1 621.1,585.6 623.1,585.0 625.1,584.5 627.1,583.9 629.1,583.3 631.1,582.8 633.1,582.2 635.1,581.6 637.1,580.9 639.1,580.3 641.1,579.7 643.1,579.0 645.1,578.3 647.1,577.7 649.1,577.0 651.1,576.3 653.1,575.5 655.1,574.8 657.1,574.0 659.1,573.3 661.1,572.5 663.1,571.7 665.1,570.9 667.1,570.1 669.1,569.2 671.1,568.4 673.1,567.5 675.1,566.6 677.1,565.7 679.1,564.8 681.1,563.9 683.1,562.9 685.1,562.0 687.1,561.0 689.1,560.0 691.1,559.0 693.1,558.0 695.1,556.9 697.1,555.8 699.1,554.7 701.1,553.6 703.1,552.5 705.1,551.4 707.1,550.2 709.1,549.0 711.1,547.8 713.1,546.6 715.1,545.4 717.1,544.1 719.1,542.8 721.1,541.5 723.1,540.2 725.1,538.9 727.1,537.5 729.1,536.1 731.1,534.7 733.1,533.3 735.1,531.8 737.1,530.3 739.1,528.8 741.1,527.3 743.1,525.7 745.1,524.1 747.1,522.5 749.1,520.8 751.1,519.2 753.1,517.5 755.1,515.7 757.1,514.0 759.1,512.2 761.1,510.4 763.1,508.5 765.1,506.6 767.1,504.7 769.1,502.8 771.1,500.8 773.1,498.8 775.1,496.8 777.1,494.7 779.1,492.6 781.1,490.4 783.1,488.3 785.1,486.1 787.1,483.8 789.1,481.6 791.1,479.3 793.1,476.9 795.1,474.5 797.1,472.1 799.1,469.7 801.1,467.2 803.1,464.7 805.1,462.2 807.1,459.6 809.1,457.0 811.1,454.3 813.1,451.6 815.1,448.9 817.1,446.2 819.1,443.4 821.1,440.5 823.1,437.7 825.1,434.8 827.1,431.8 829.1,428.9 831.1,425.9 833.1,422.8 835.1,419.7 837.1,416.6 839.1,413.5 841.1,410.3 843.1,407.1 845.1,403.8 847.1,400.5 849.1,397.2 851.1,393.8 853.1,390.4 855.1,386.9 857.1,383.4 859.1,379.9 861.1,376.4 863.1,372.8 865.1,369.2 867.1,365.5 869.1,361.9 871.1,358.2 873.1,354.5 875.1,350.8 877.1,347.1 879.1,343.4 881.1,339.6 883.1,335.9 885.1,332.1 887.1,328.4 889.1,324.7 891.1,320.9 893.1,317.2 895.1,313.5 897.1,309.7 899.1,306.0 901.1,302.4 903.1,298.7 905.1,295.0 907.1,291.4 909.1,287.8 911.1,284.3 913.1,280.7 915.1,277.2 917.1,273.7 919.1,270.3 921.1,266.9 923.1,263.5 925.1,260.1 927.1,256.8 929.1,253.4 931.1,250.1 933.1,246.7 935.1,243.4 937.1,240.1 939.1,236.7 941.1,233.3 943.1,229.9 945.1,226.5 947.1,223.0 949.1,219.6 951.1,216.1 953.1,212.5 955.1,209.0 957.1,205.4 959.1,201.9 961.1,198.3 963.1,194.7 965.2,190.8 967.4,187.0 969.1,183.9 969.9,182.3 970.3,181.5 971.1,180.3 972.8,178.0 975.0,175.2 977.1,172.5 979.1,169.9 981.1,167.4 983.1,164.9 985.1,162.5 987.1,160.0 989.1,157.6 991.1,155.3 993.1,152.9 995.1,150.6 997.1,148.4 999.1,146.1 1001.1,143.9 1003.1,141.7 1005.1,139.6 1007.1,137.5 1009.1,135.4 1011.1,133.3 1013.1,131.3 1015.1,129.3 1017.1,127.4 1019.1,125.5 1021.1,123.6 1023.1,121.7 1025.1,119.9 1027.1,118.2 1029.1,116.4 1031.1,114.7 1033.1,113.1 1035.1,111.4 1037.1,109.8 1039.1,108.3 1041.1,106.8 1043.1,105.3 1045.1,103.8 1047.1,102.4 1049.1,101.1 1051.1,99.7 1053.1,98.4 1055.1,97.2 1057.1,96.0 1059.1,94.8 1061.1,93.7 1063.1,92.6 1065.1,91.5 1067.1,90.5 1069.1,89.5 1071.1,88.6 1073.1,87.7 1075.1,86.9 1077.1,86.0 1079.1,85.3 1081.1,84.6 1083.1,83.9 1085.1,83.2 1087.1,82.6 1089.1,82.1 1091.1,81.6 1093.1,81.1 1095.1,80.7 1097.1,80.3 1099.1,80.0 1101.1,79.7 1103.1,79.5 1105.1,79.3 1107.1,79.1 1109.1,79.0 1111.1,78.9 1113.1,78.9 1115.1,79.0 1117.1,79.1 1119.1,79.2 1121.1,79.4 1123.1,79.6 1125.1,79.9 1127.1,80.2 1129.1,80.5 1131.1,81.0 1133.1,81.4 1135.1,81.9 1137.1,82.5 1139.1,83.1 1141.1,83.8 1143.1,84.5 1145.1,85.2 1147.1,86.0 1149.1,86.9 1151.1,87.7 1153.1,88.7 1155.1,89.6 1157.1,90.6 1159.1,91.7 1161.1,92.8 1163.1,93.9 1165.1,95.1 1167.1,96.4 1169.1,97.6 1171.1,98.9 1173.1,100.3 1175.1,101.6 1177.1,103.1 1179.1,104.5 1181.1,106.0 1183.1,107.5 1185.1,109.1 1187.1,110.7 1189.1,112.4 1191.1,114.0 1193.1,115.7 1195.1,117.5 1197.1,119.3 1199.1,121.1 1201.1,122.9 1203.1,124.8 1205.1,126.7 1207.1,128.7 1209.1,130.6 1211.1,132.6 1213.1,134.7 1215.1,136.7 1217.1,138.8 1219.1,141.0 1221.1,143.1 1223.1,145.3 1225.1,147.5 1227.1,149.7 1229.1,152.0 1231.1,154.3 1233.1,156.6 1235.1,158.9 1237.1,161.3 1239.1,163.7 1241.1,166.1 1243.1,168.6 1245.1,171.2 1247.1,173.8 1249.1,176.5 1251.1,179.3 1253.1,182.2 1255.1,185.1 1257.1,188.2 1259.1,191.4 1261.1,194.7 1263.1,198.2 1265.1,201.7 1267.1,205.3 1269.1,209.0 1271.1,212.8 1273.1,216.5 1275.1,220.2 1277.1,224.0 1279.1,227.7 1281.1,231.4 1283.1,235.1 1285.1,238.8 1287.1,242.4 1289.1,246.1 1291.1,249.7 1293.1,253.3 1295.1,256.9 1297.1,260.4 1299.1,264.0 1301.1,267.5 1303.1,271.0 1305.1,274.4 1307.1,277.8 1309.1,281.3 1311.1,284.7 1313.1,288.1 1315.1,291.5 1317.1,295.0 1319.1,298.4 1321.1,301.9 1323.1,305.4 1325.1,309.0 1327.1,312.5 1329.1,316.1 1331.1,319.7 1333.1,323.4 1335.1,327.0 1337.1,330.7 1339.1,334.4 1341.1,338.0 1343.1,341.7 1345.1,345.4 1347.1,349.1 1349.1,352.8 1351.1,356.5 1353.1,360.2 1355.1,363.9 1357.1,367.6 1359.1,371.3 1361.1,374.9 1363.1,378.6 1365.1,382.2 1367.1,385.8 1369.1,389.4 1371.1,393.0 1373.1,396.5 1375.1,400.0 1377.1,403.5 1379.1,406.9 1381.1,410.3 1383.1,413.7 1385.1,417.0 1387.1,420.3 1389.1,423.5 1391.1,426.7 1393.1,429.9 1395.1,433.1 1397.1,436.2 1399.1,439.2 1401.1,442.3 1403.1,445.3 1405.1,448.2 1407.1,451.1 1409.1,454.0 1411.1,456.9 1413.1,459.7 1415.1,462.4 1417.1,465.2 1419.1,467.8 1421.1,470.5 1423.1,473.1 1425.1,475.7 1427.1,478.2 1429.1,480.7 1431.1,483.1 1433.1,485.5 1435.1,487.9 1437.1,490.2 1439.1,492.5 1441.1,494.8 1443.1,497.0 1445.1,499.1 1447.1,501.3 1449.1,503.4 1451.1,505.4 1453.1,507.4 1455.1,509.4 1457.1,511.4 1459.1,513.3 1461.1,515.1 1463.1,517.0 1465.1,518.8 1467.1,520.5 1469.1,522.3 1471.1,524.0 1473.1,525.6 1475.1,527.3 1477.1,528.9 1479.1,530.5 1481.1,532.0 1483.1,533.5 1485.1,535.0 1487.1,536.5 1489.1,537.9 1491.1,539.3 1493.1,540.7 1495.1,542.1 1497.1,543.4 1499.1,544.7 1501.1,546.0 1503.1,547.2 1505.1,548.4 1507.1,549.6 1509.1,550.8 1511.1,552.0 1513.1,553.1 1515.1,554.2 1517.1,555.3 1519.1,556.4 1521.1,557.5 1523.1,558.5 1525.1,559.5 1527.1,560.5 1529.1,561.5 1531.1,562.5 1533.1,563.4 1535.1,564.4 1537.1,565.3 1539.1,566.2 1541.1,567.1 1543.1,568.0 1545.1,568.8 1547.1,569.7 1549.1,570.5 1551.1,571.3 1553.1,572.1 1555.1,572.9 1557.1,573.7 1559.1,574.5 1561.1,575.2 1563.1,575.9 1565.1,576.7 1567.1,577.4 1569.1,578.1 1571.1,578.7 1573.1,579.4 1575.1,580.1 1577.1,580.7 1579.1,581.4 1581.1,582.0 1583.1,582.6 1585.1,583.2 1587.1,583.8 1589.1,584.3 1591.1,584.9 1593.1,585.5 1595.1,586.0 1597.1,586.5 1599.1,587.1 1601.1,587.6 1603.1,588.1 1605.1,588.6 1607.1,589.0 1609.1,589.5 1611.1,590.0 1613.1,590.4 1615.1,590.8 1617.1,591.3 1619.1,591.7 1621.1,592.1 1623.1,592.5 1625.1,592.9 1627.1,593.3 1629.1,593.7 1631.1,594.0 1633.1,594.4 1635.1,594.8 1637.1,595.1 1639.1,595.4 1641.1,595.8 1643.1,596.1 1645.1,596.4 1647.1,596.7 1649.1,597.0 1651.1,597.3 1653.1,597.6 1655.1,597.9 1657.1,598.2 1659.1,598.4 1661.1,598.7 1663.1,599.0 1665.1,599.2 1667.1,599.5 1669.1,599.7 1671.1,599.9 1673.1,600.2 1675.1,600.4 1677.1,600.6 1679.1,600.8 1681.1,601.1 1683.1,601.3 1685.1,601.5 1687.1,601.7 1689.1,601.9 1691.1,602.1 1693.1,602.2 1695.1,602.4 1697.1,602.6 1699.1,602.8 1701.1,603.0 1703.1,603.1 1705.1,603.3 1707.1,603.5 1709.1,603.6 1711.1,603.8 1713.1,604.0 1715.1,604.1 1717.1,604.3 1719.1,604.4 1721.1,604.6 1723.1,604.7 1725.1,604.8 1727.1,605.0 1729.1,605.1 1731.1,605.2 1733.1,605.4 1735.1,605.5 1737.1,605.6 1739.1,605.7 1741.1,605.8 1743.1,606.0 1745.1,606.1 1747.1,606.2 1749.1,606.3 1751.1,606.4 1753.1,606.5 1755.1,606.6 1757.1,606.6 1759.1,606.7 1761.1,606.8 1763.1,606.9 1765.1,607.0 1767.1,607.0 1769.1,607.1 1771.1,607.2 1773.1,607.2 1775.1,607.3 1777.1,607.4 1779.1,607.4 1781.1,607.5 1783.1,607.5 1785.1,607.5 1787.1,607.6 1789.1,607.6 1791.1,607.6 1793.1,607.7 1795.1,607.7 1797.1,607.7 1799.1,607.7 1801.1,607.7 1803.1,607.7 1805.1,607.7 1807.1,607.8 1809.1,607.7 1811.1,607.7 1813.1,607.7 1815.1,607.7 1817.1,607.7 1819.1,607.7 1821.1,607.7 1823.1,607.6 1825.1,607.6 1827.1,607.6 1829.1,607.5 1831.1,607.5 1833.1,607.4 1835.1,607.4 1837.1,607.3 1839.1,607.3 1841.1,607.2 1843.1,607.1 1845.1,607.1 1847.1,607.0 1849.1,606.9 1851.1,606.8 1853.1,606.7 1855.1,606.6 1857.1,606.5 1859.1,606.4 1861.1,606.3 1863.1,606.2 1865.1,606.1 1867.3,606.0 1869.5,605.9 1871.1,605.8 1871.9,605.7 1872.1,605.7 1872.2,605.7 1872.8,624.8" fill="none" stroke="#333" stroke-width="3" stroke-linejoin="round"/>
<line x1="1871.4" y1="605.7" x2="1875.7" y2="605.6" stroke="#333" stroke-width="3"/>
<line x1="354.7" y1="624.8" x2="1875.4" y2="624.8" stroke="#333" stroke-width="3.2"/>
<text transform="translate(310.33,372.80) scale(0.9601,1)" font-size="40.00" font-style="italic" fill="#0a0a0a" stroke="#0a0a0a" stroke-width="0.1">Subhuman</text>
<text transform="translate(541.40,368.10) scale(0.9605,1)" font-size="39.04" font-style="italic" fill="#0a0a0a" stroke="#0a0a0a" stroke-width="0.1">Truecel</text>
<text transform="translate(754.78,189.90) scale(0.8855,1)" font-size="38.55" font-style="italic" fill="#0a0a0a" stroke="#0a0a0a" stroke-width="0.1">LTN</text>
<text transform="translate(1314.93,113.00) scale(1.0441,1)" font-size="37.39" font-style="italic" fill="#0a0a0a" stroke="#0a0a0a" stroke-width="0.1">MTN</text>
<text transform="translate(1452.02,274.30) scale(0.9768,1)" font-size="36.81" font-style="italic" fill="#0a0a0a" stroke="#0a0a0a" stroke-width="0.1">HTN</text>
<text transform="translate(1526.15,352.10) scale(1.0130,1)" font-size="38.49" font-style="italic" fill="#0a0a0a" stroke="#0a0a0a" stroke-width="0.1">Chadlite</text>
<text transform="translate(1777.08,393.80) scale(0.9442,1)" font-size="38.49" font-style="italic" fill="#0a0a0a" stroke="#0a0a0a" stroke-width="0.1">Chad</text>
<text transform="translate(107.92,537.70) scale(1.0349,1)" font-size="30.00" font-style="normal" fill="#161616" stroke="#161616" stroke-width="0.5">Percentage of</text>
<text transform="translate(46.77,573.20) scale(1.0212,1)" font-size="30.00" font-style="normal" fill="#161616" stroke="#161616" stroke-width="0.5">cases in 8 portions</text>
<text transform="translate(143.08,607.60) scale(1.0164,1)" font-size="30.00" font-style="normal" fill="#161616" stroke="#161616" stroke-width="0.5">of the curve</text>
<text transform="translate(27.70,666.70) scale(1.0254,1)" font-size="29.32" font-style="normal" fill="#161616" stroke="#161616" stroke-width="0.5">Standard Deviations</text>
<text transform="translate(330.32,668.40) scale(1.0159,1)" font-size="36.43" font-style="normal" fill="#333" stroke="#333" stroke-width="0">-4σ</text>
<text transform="translate(516.50,668.40) scale(1.0272,1)" font-size="36.43" font-style="normal" fill="#333" stroke="#333" stroke-width="0">-3σ</text>
<text transform="translate(704.62,668.40) scale(1.0140,1)" font-size="36.43" font-style="normal" fill="#333" stroke="#333" stroke-width="0">-2σ</text>
<text transform="translate(891.10,668.40) scale(1.0144,1)" font-size="36.96" font-style="normal" fill="#333" stroke="#333" stroke-width="0">-1σ</text>
<text transform="translate(1096.57,668.40) scale(1.0308,1)" font-size="36.43" font-style="normal" fill="#333" stroke="#333" stroke-width="0">0</text>
<text transform="translate(1261.11,668.40) scale(1.0047,1)" font-size="36.96" font-style="normal" fill="#333" stroke="#333" stroke-width="0">+1σ</text>
<text transform="translate(1448.43,668.40) scale(1.0081,1)" font-size="36.43" font-style="normal" fill="#333" stroke="#333" stroke-width="0">+2σ</text>
<text transform="translate(1635.72,668.40) scale(1.0145,1)" font-size="36.43" font-style="normal" fill="#333" stroke="#333" stroke-width="0">+3σ</text>
<text transform="translate(1822.66,668.40) scale(0.9904,1)" font-size="36.43" font-style="normal" fill="#333" stroke="#333" stroke-width="0">+4σ</text>
<text transform="translate(406.74,550.00) scale(0.9544,1)" font-size="39.14" font-style="normal" fill="#3c3c3c" stroke="#fefefe" stroke-width="0.45">.13%</text>
<text transform="translate(572.54,550.00) scale(0.9528,1)" font-size="39.14" font-style="normal" fill="#3c3c3c" stroke="#fefefe" stroke-width="0.45">2.14%</text>
<text transform="translate(866.62,549.80) scale(0.9441,1)" font-size="36.00" font-style="normal" fill="#0a0a0a" stroke="#0a0a0a" stroke-width="0.2">47.72%</text>
<text transform="translate(1141.58,550.50) scale(0.9049,1)" font-size="41.29" font-style="normal" fill="#3c3c44" stroke="#8da4ff" stroke-width="0.45">34.13%</text>
<text transform="translate(1306.31,550.50) scale(0.9040,1)" font-size="40.86" font-style="normal" fill="#3c3844" stroke="#c69aff" stroke-width="0.45">13.59%</text>
<text transform="translate(1538.23,549.80) scale(0.9575,1)" font-size="39.14" font-style="normal" fill="#3c3c3c" stroke="#fefefe" stroke-width="0.45">2.14%</text>
<text transform="translate(1722.40,549.80) scale(0.9651,1)" font-size="39.14" font-style="normal" fill="#3c3c3c" stroke="#fefefe" stroke-width="0.45">.13%</text>
<g stroke="#050505" stroke-width="3" fill="none" stroke-linecap="butt" stroke-linejoin="miter">
<line x1="392.4" y1="390.7" x2="387.3" y2="620.7"/>
<polyline points="380.1,612.6 387.3,620.7 394.8,613.0"/>
<line x1="605.6" y1="382.3" x2="637.3" y2="605.2"/>
<polyline points="628.9,598.4 637.3,605.2 643.5,596.3"/>
<line x1="815.2" y1="201.9" x2="912.9" y2="427.6"/>
<polyline points="903.0,423.3 912.9,427.6 916.5,417.4"/>
<line x1="1302.3" y1="111.6" x2="1177.0" y2="311.4"/>
<polyline points="1175.0,300.8 1177.0,311.4 1187.4,308.6"/>
<line x1="1443.3" y1="286.5" x2="1387.8" y2="474.9"/>
<polyline points="1383.0,465.2 1387.8,474.9 1397.1,469.4"/>
<line x1="1602.6" y1="368.4" x2="1585.1" y2="605.5"/>
<polyline points="1578.3,597.1 1585.1,605.5 1593.0,598.2"/>
<line x1="1832.6" y1="407.4" x2="1834.0" y2="620.6"/>
<polyline points="1826.6,612.7 1834.0,620.6 1841.3,612.7"/>
</g>
</g></svg></body></html>
